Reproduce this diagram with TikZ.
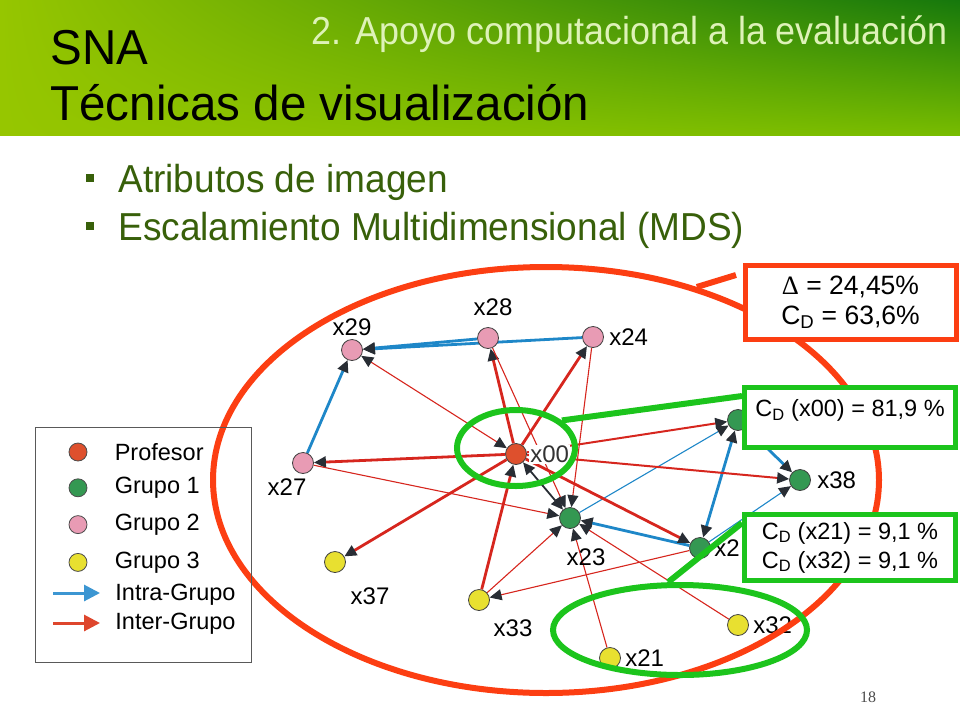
\documentclass[tikz,border=0pt]{standalone}
\usepackage{fontspec}
\setmainfont{Liberation Sans}
\newfontfamily\serifnum{Liberation Serif}
\newfontfamily\titlefont{Liberation Sans}[FakeStretch=0.97]
\newfontfamily\topicfont{Liberation Sans}[FakeStretch=0.92]
\newfontfamily\bulletfont{Liberation Sans}[FakeStretch=0.95]
\usetikzlibrary{positioning,arrows.meta,calc,shapes.geometric,backgrounds,shadings}

\definecolor{profred}{RGB}{222,80,45}
\definecolor{grpgreen}{RGB}{52,152,82}
\definecolor{grppink}{RGB}{232,155,180}
\definecolor{grpyellow}{RGB}{232,224,48}
\definecolor{interred}{RGB}{214,38,30}
\definecolor{intrablue}{RGB}{30,135,200}
\definecolor{legred}{RGB}{222,70,45}
\definecolor{legblue}{RGB}{60,150,210}
\definecolor{tipgrey}{RGB}{40,45,52}
\definecolor{ringred}{RGB}{252,62,18}
\definecolor{ringgreen}{RGB}{28,196,28}
\definecolor{hdrlime}{RGB}{150,198,0}
\definecolor{hdrdark}{RGB}{22,120,12}
\definecolor{hdrlow}{RGB}{120,188,0}
\definecolor{hdrtext}{RGB}{222,242,184}
\definecolor{bullgreen}{RGB}{56,96,10}

\begin{document}
\begin{tikzpicture}[x=1pt, y=-1pt, thick, node distance=17pt,
  >={Triangle[length=12pt,width=11pt,color=tipgrey]}]
% Definition of styles:
\tikzset{%
  actor/.style     = {draw=black!75, circle, line width=0.8pt, minimum size=21pt, inner sep=0pt},
  prof/.style      = {actor, fill=profred},
  grpa/.style      = {actor, fill=grpgreen},
  grpb/.style      = {actor, fill=grppink},
  grpc/.style      = {actor, fill=grpyellow},
  tag/.style       = {font=\fontsize{24}{26}\selectfont, inner sep=1pt},
  intra/.style     = {draw=intrablue, line width=2.8pt, ->},
  intrathin/.style = {draw=intrablue, line width=1.1pt, ->},
  inter/.style     = {draw=interred, line width=2.8pt, ->},
  intermid/.style  = {draw=interred, line width=2pt, ->},
  interthin/.style = {draw=interred, line width=1.1pt, ->},
  ring/.style      = {draw, ellipse, line width=6pt, inner sep=0pt},
  infobox/.style   = {draw, fill=white, line width=5pt, minimum width=211pt, inner sep=0pt,
                      align=center, font=\fontsize{23.5}{29}\selectfont},
  legdot/.style    = {draw=black!70, circle, line width=0.8pt, minimum size=18pt, inner sep=0pt},
  legtext/.style   = {font=\fontsize{23.5}{26}\selectfont, inner sep=2pt}
}
\useasboundingbox (0,0) rectangle (960,720);

% Header
\shade[upper left=hdrlime, lower left=hdrlime, upper right=hdrdark, lower right=hdrlow]
  (0,0) rectangle (960,135);
\node[anchor=base east, text=hdrtext, font=\topicfont\fontsize{39}{42}\selectfont, inner sep=0pt]
  (topic) at (948,44) {2. Apoyo computacional a la evaluación};
\node[anchor=base west, font=\titlefont\fontsize{49}{52}\selectfont, inner sep=0pt] (sna) at (50,64) {SNA};
\node[anchor=base west, font=\titlefont\fontsize{49}{52}\selectfont, inner sep=0pt] (tecnicas) at (50,120)
  {Técnicas de visualización};

% Bullets
\node[fill=bullgreen, minimum size=8pt, inner sep=0pt] (b1) at (90,178) {};
\node[fill=bullgreen, minimum size=8pt, inner sep=0pt] (b2) at (90,226) {};
\node[anchor=base west, text=bullgreen, font=\bulletfont\fontsize{39}{42}\selectfont, inner sep=0pt]
  (attr) at (118,192) {Atributos de imagen};
\node[anchor=base west, text=bullgreen, font=\bulletfont\fontsize{39}{42}\selectfont, inner sep=0pt]
  (mds) at (118,240) {Escalamiento Multidimensional (MDS)};

% Network
\draw
  node [prof] (x00) at (516,454) {}
  node [grpb] (x29) at (352,350) {}
  node [grpb] (x28) at (488,338) {}
  node [grpb] (x24) at (593,337) {}
  node [grpb] (x27) at (303,463) {}
  node [grpa] (x23) at (570,518) {}
  node [grpa] (x2)  at (700,548) {}
  node [grpa] (xhid) at (738,420) {}
  node [grpa] (x38) at (800,480) {}
  node [grpc] (x37) at (335,562) {}
  node [grpc] (x33) at (479,600) {}
  node [grpc] (x21) at (610,658) {}
  node [grpc] (x32) at (738,625) {};

\node [tag, above = 2pt of x29] (t29) {x29};
\node [tag, above = 10pt of x28, xshift=5pt] (t28) {x28};
\node [tag, right = 4pt of x24] (t24) {x24};
\node [tag, below = 3pt of x27, xshift=-16pt] (t27) {x27};
\node [tag, right = 2pt of x00, fill=white, text=black!80] (t00) {x00};
\node [tag, below = 18pt of x23, xshift=16pt] (t23) {x23};
\node [tag, right = 2pt of x2] (t2) {x2};
\node [tag, right = 5pt of x38] (t38) {x38};
\node [tag, below = 13pt of x37, xshift=35pt] (t37) {x37};
\node [tag, below = 7pt of x33, xshift=34pt] (t33) {x33};
\node [tag, right = 3pt of x21] (t21) {x21};
\node [tag, right = 3pt of x32] (t32) {x32};

\begin{scope}[on background layer]
  % Intra-Grupo
  \draw[intra] (x24) -- (x29);
  \draw[intra] (x28) -- (x29);
  \draw[intra] (x27) -- (x29);
  \draw[intra] (x2) -- (x23);
  \draw[intra, <->] (x2) -- (xhid);
  \draw[intra] (xhid) -- (x38);
  \draw[intrathin] (x23) -- (xhid);
  \draw[intrathin] (x2) -- (x38);
  % Inter-Grupo
  \draw[inter] (x00) -- (x27);
  \draw[inter] (x00) -- (x28);
  \draw[inter] (x00) -- (x24);
  \draw[intermid] (x00) -- (xhid);
  \draw[intermid] (x00) -- (x38);
  \draw[inter] (x00) -- (x37);
  \draw[inter] (x33) -- (x00);
  \draw[inter] (x00) -- (x2);
  \draw[interthin, <->] (x29) -- (x00);
  \draw[interthin] (x27) -- (x23);
  \draw[interthin] (x28) -- (x23);
  \draw[interthin] (x24) -- (x23);
  \draw[interthin] (x21) -- (x23);
  \draw[interthin] (x32) -- (x23);
  \draw[interthin] (x33) -- (x23);
  \draw[interthin] (x2) -- (x33);
  \draw[draw=tipgrey, line width=1.8pt, <->] (x00) -- (x23);
\end{scope}

% Highlights
\node[ring, draw=ringred, minimum width=666pt, minimum height=426pt] (redring) at (546,480) {};
\node[ring, draw=ringgreen, minimum width=118pt, minimum height=76pt] (ringA) at (516,448) {};
\node[ring, draw=ringgreen, minimum width=254pt, minimum height=90pt] (ringB) at (680,630) {};

\node[infobox, draw=ringred, minimum height=74pt, font=\fontsize{26.5}{30}\selectfont] (totbox) at (850.5,302.5)
  {{\serifnum Δ} = 24,45\%\\C\textsubscript{D} = 63,6\%};
\node[infobox, draw=ringgreen, minimum height=60pt] (cdbox) at (850,417.5)
  {C\textsubscript{D} (x00) = 81,9 \%\\[-10pt]\mbox{}};
\node[infobox, draw=ringgreen, minimum height=66pt] (pairbox) at (850,547.5)
  {C\textsubscript{D} (x21) = 9,1 \%\\C\textsubscript{D} (x32) = 9,1 \%};

\coordinate (redstub) at (736,275);
\coordinate (pinA) at ($(cdbox.north west)+(0,11)$);
\coordinate (pinB) at ($(pairbox.north west)+(0,11)$);
\draw[ringred, line width=6pt] (redring.52) -- (redstub);
\draw[ringgreen, line width=6pt] (ringA.31) -- (pinA);
\draw[ringgreen, line width=6pt] (ringB.104) -- (pinB);

% Legend
\node[draw=black!65, line width=1.3pt, minimum width=216pt, minimum height=235pt] (legend) at (143.5,545) {};
\draw
  node [legdot, fill=profred] (kprof) at (78,452) {}
  node [legdot, fill=grpgreen, below = 17pt of kprof] (kone) {}
  node [legdot, fill=grppink, below = 18pt of kone] (ktwo) {}
  node [legdot, fill=grpyellow, below = 19pt of ktwo] (kthree) {};
\coordinate (ia) at (53,593);
\coordinate (ib) at (100,593);
\coordinate (ra) at (53,623);
\coordinate (rb) at (100,623);
\draw[legblue, line width=3pt, -{Triangle[length=16pt,width=16pt]}] (ia) -- (ib);
\draw[legred, line width=3pt, -{Triangle[length=16pt,width=16pt]}] (ra) -- (rb);
\node [legtext, right = 25pt of kprof] (lprof) {Profesor};
\node [legtext, right = 25pt of kone] (lone) {Grupo 1};
\node [legtext, right = 25pt of ktwo] (ltwo) {Grupo 2};
\node [legtext, right = 25pt of kthree] (lthree) {Grupo 3};
\node [legtext, right = 13pt of ib, yshift=-2pt] (lintra) {Intra-Grupo};
\node [legtext, right = 13pt of rb, yshift=-1pt] (linter) {Inter-Grupo};

\node[font=\serifnum\fontsize{16}{18}\selectfont, text=black!70] (pgno) at (868,697) {18};
\end{tikzpicture}
\end{document}
